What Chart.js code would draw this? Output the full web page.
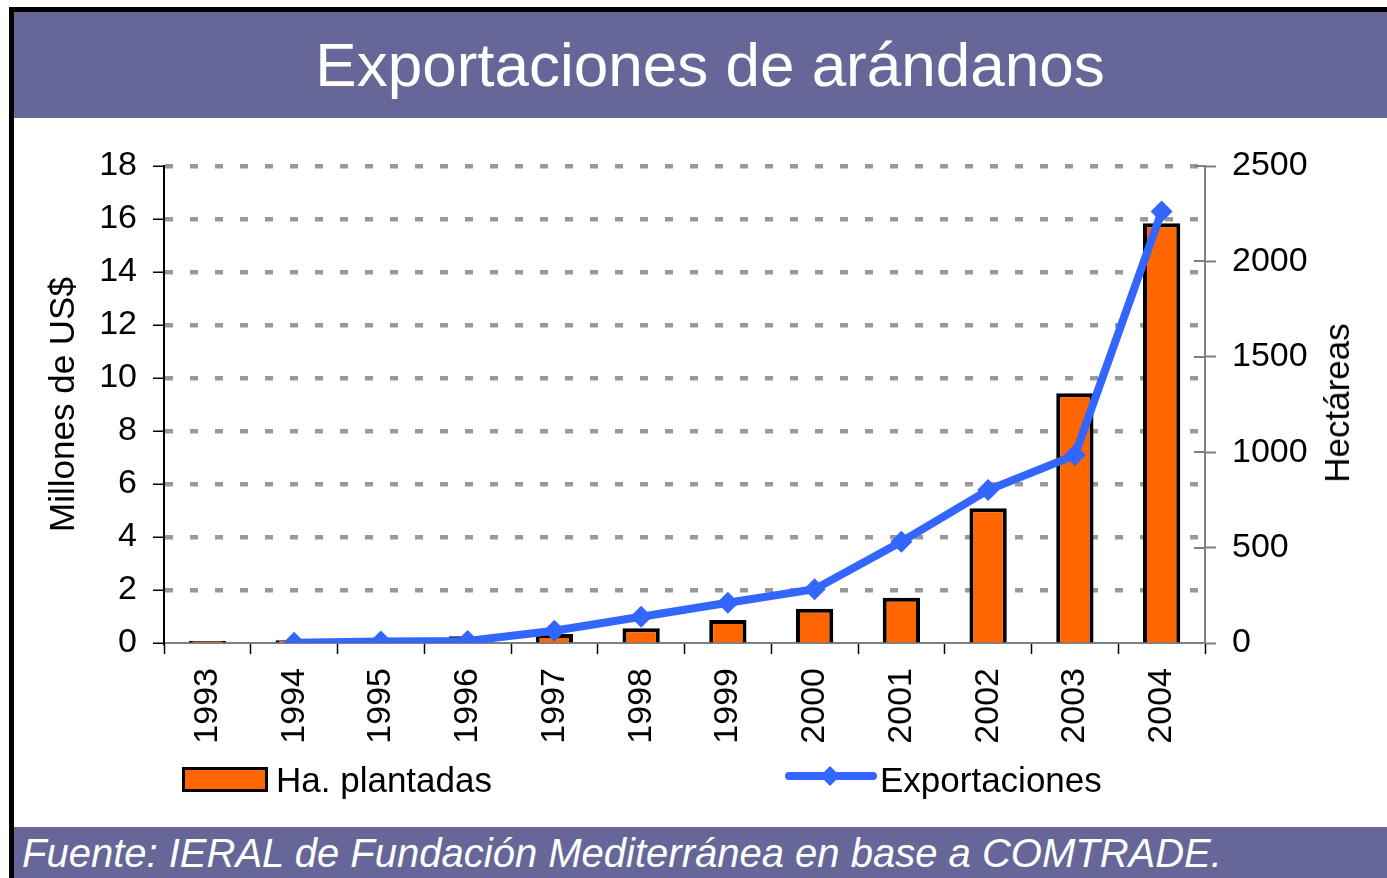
<!DOCTYPE html>
<html lang="es">
<head>
<meta charset="UTF-8">
<title>Exportaciones de arándanos</title>
<script src="https://cdn.jsdelivr.net/npm/chart.js@4.4.0/dist/chart.umd.min.js"></script>
<style>
  html, body { margin: 0; padding: 0; background: #fff; }
  body { width: 1387px; height: 878px; position: relative; overflow: hidden;
         font-family: "Liberation Sans", Arial, sans-serif; }
  #frame { position: absolute; left: 9px; top: 7px; width: 1378px; height: 871px;
           border-left: 5px solid #000; border-top: 5px solid #000; box-sizing: border-box; }
  #header { position: absolute; left: 14px; top: 12px; width: 1373px; height: 106px; background: #666699; }
  #header h1 { margin: 0; position: absolute; left: 0; width: 1392px; top: 22px; text-align: center;
               color: #fff; font-weight: normal; font-size: 62px; line-height: 62px; }
  #footer { position: absolute; left: 14px; top: 827px; width: 1373px; height: 51px; background: #666699;
            color: #fff; font-style: italic; font-size: 40px; line-height: 51px; }
  #footer span { position: absolute; left: 8px; top: 1px; white-space: nowrap; }
  #chartBox { position: absolute; left: 0; top: 118px; width: 1387px; height: 709px; }
  #rightTitle { position: absolute; left: 1337px; top: 403px; font-size: 35px; white-space: nowrap;
                transform: translate(-50%, -50%) rotate(-90deg); color: #000; }
  .leg { position: absolute; font-size: 35px; color: #000; white-space: nowrap; line-height: 40px; }
  #legBar { position: absolute; left: 182px; top: 767px; width: 86px; height: 25px; background: #FF6600;
            border: 3px solid #000; box-sizing: border-box; }
  #legLine { position: absolute; left: 780px; top: 762px; }
</style>
</head>
<body>
<div id="frame"></div>
<div id="header"><h1>Exportaciones de arándanos</h1></div>
<div id="chartBox"><canvas id="chart"></canvas></div>
<div id="rightTitle">Hectáreas</div>
<div id="legBar"></div>
<div class="leg" style="left:276px; top:760px;">Ha. plantadas</div>
<svg id="legLine" width="102" height="30">
  <line x1="9" y1="14" x2="93" y2="14" stroke="#3366FF" stroke-width="8" stroke-linecap="round"/>
  <polygon points="50,4 60,14 50,24 40,14" fill="#3366FF"/>
</svg>
<div class="leg" style="left:880px; top:760px;">Exportaciones</div>
<div id="footer"><span>Fuente: IERAL de Fundación Mediterránea en base a COMTRADE.</span></div>

<script>
// Data
const years = ['1993', '1994', '1995', '1996', '1997', '1998', '1999', '2000', '2001', '2002', '2003', '2004'];
// Hectáreas plantadas (right axis)
const hectareas = [10, 15, 25, 35, 47, 77, 120, 180, 237, 706, 1309, 2200];
// Exportaciones, millones de US$ (left axis)
const exportaciones = [null, 0.01, 0.06, 0.08, 0.46, 0.99, 1.52, 2.03, 3.82, 5.77, 7.09, 16.28];

const leftTicks = [0, 2, 4, 6, 8, 10, 12, 14, 16, 18];
const rightTicks = [0, 500, 1000, 1500, 2000, 2500];

const FONT = '"Liberation Sans", Arial, sans-serif';

// inner half of the right axis tick marks (they cross the axis in the original)
const rightInnerTicks = {
  id: 'rightInnerTicks',
  afterDraw(chart) {
    const s = chart.scales.y1;
    const ctx = chart.ctx;
    ctx.save();
    ctx.strokeStyle = '#808080';
    ctx.lineWidth = 2;
    s.ticks.forEach(t => {
      const y = Math.round(s.getPixelForValue(t.value));
      ctx.beginPath();
      ctx.moveTo(s.left - 11, y);
      ctx.lineTo(s.left, y);
      ctx.stroke();
    });
    ctx.restore();
  }
};

new Chart(document.getElementById('chart'), {
  type: 'bar',
  data: {
    labels: years,
    datasets: [
      {
        type: 'line',
        label: 'Exportaciones',
        data: exportaciones,
        yAxisID: 'y',
        borderColor: '#3366FF',
        backgroundColor: '#3366FF',
        borderWidth: 8,
        pointStyle: 'rectRot',
        pointRadius: 11,
        pointBorderWidth: 0,
        tension: 0,
        order: 0
      },
      {
        type: 'bar',
        label: 'Ha. plantadas',
        data: hectareas,
        yAxisID: 'y1',
        backgroundColor: '#FF6600',
        borderColor: '#000',
        borderWidth: 4,
        borderSkipped: 'bottom',
        categoryPercentage: 1,
        barPercentage: 0.43,
        order: 1
      }
    ]
  },
  options: {
    responsive: true,
    maintainAspectRatio: false,
    animation: false,
    layout: { padding: { top: 48, left: 0, right: 0, bottom: 0 } },
    plugins: {
      legend: { display: false },
      tooltip: { enabled: false }
    },
    scales: {
      x: {
        afterFit: s => { s.height = 184; },
        grid: { offset: true, drawOnChartArea: false, tickLength: 11, tickColor: '#000', tickWidth: 1.5 },
        border: { color: '#808080', width: 2 },
        ticks: {
          minRotation: 90, maxRotation: 90, autoSkip: false, padding: 14,
          color: '#000', font: { family: FONT, size: 34 }
        }
      },
      y: {
        position: 'left',
        min: 0, max: 18,
        afterFit: s => { s.width = 164; },
        afterBuildTicks: s => { s.ticks = leftTicks.map(v => ({ value: v })); },
        grid: {
          color: c => (c.tick && c.tick.value === 0) ? 'rgba(0,0,0,0)' : '#999999',
          lineWidth: 4.5,
          tickLength: 11, tickColor: '#000', tickWidth: 1.5, tickBorderDash: []
        },
        border: { color: '#000', width: 2, dash: [8, 17] },
        ticks: { padding: 16, color: '#000', font: { family: FONT, size: 34 } },
        title: {
          display: true, text: 'Millones de US$', color: '#000',
          font: { family: FONT, size: 35 }, padding: { top: 43, bottom: 0 }
        }
      },
      y1: {
        position: 'right',
        min: 0, max: 2500,
        afterFit: s => { s.width = 182; },
        afterBuildTicks: s => { s.ticks = rightTicks.map(v => ({ value: v })); },
        grid: { drawOnChartArea: false, tickLength: 11, tickColor: '#808080', tickWidth: 2 },
        border: { color: '#808080', width: 2 },
        ticks: {
          padding: 16, color: '#000', font: { family: FONT, size: 34 },
          callback: v => String(v)
        }
      }
    }
  },
  plugins: [rightInnerTicks]
});
</script>
</body>
</html>
